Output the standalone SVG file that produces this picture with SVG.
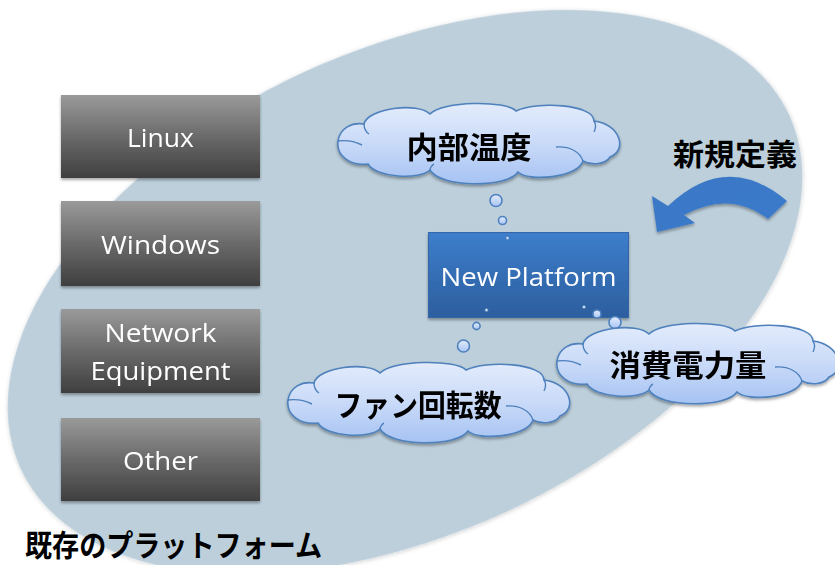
<svg xmlns="http://www.w3.org/2000/svg" xmlns:xlink="http://www.w3.org/1999/xlink" width="835" height="565" viewBox="0 0 835 565">
<style>
.boxtxt{font-family:"Open Sans","Liberation Sans",sans-serif;font-size:26px;fill:#ffffff;text-anchor:middle}
.jp{font-family:"Noto Sans CJK JP",sans-serif;font-weight:bold;fill:#000000;font-size:30px;text-anchor:middle;dominant-baseline:central}
.cloud{fill:url(#gCloud);stroke:#4f81bd;stroke-width:1.6}
.cinner{fill:none;stroke:#4f81bd;stroke-width:1.4}
.bub{fill:url(#gBub);stroke:#4f81bd;stroke-width:1.6}
.dot{fill:#dbe7fb;stroke:#4f81bd;stroke-width:0.8}
</style>
<defs>
<linearGradient id="gBox" x1="0" y1="0" x2="0" y2="1">
<stop offset="0" stop-color="#9a9a9a"/>
<stop offset="0.5" stop-color="#6a6a6a"/>
<stop offset="1" stop-color="#3f3f3f"/>
</linearGradient>
<linearGradient id="gNew" x1="0" y1="0" x2="0" y2="1">
<stop offset="0" stop-color="#3d7ecc"/>
<stop offset="1" stop-color="#2c5e9e"/>
</linearGradient>
<linearGradient id="gCloud" x1="0" y1="0" x2="0" y2="1">
<stop offset="0" stop-color="#e3ecfc"/>
<stop offset="0.5" stop-color="#c9daf8"/>
<stop offset="1" stop-color="#a6c3f3"/>
</linearGradient>
<linearGradient id="gBub" x1="0" y1="0" x2="0" y2="1">
<stop offset="0" stop-color="#e3ecfc"/>
<stop offset="1" stop-color="#a9c5f3"/>
</linearGradient>
<linearGradient id="gArrow" x1="0" y1="0" x2="1" y2="1">
<stop offset="0" stop-color="#3a78c6"/>
<stop offset="1" stop-color="#3b7bcb"/>
</linearGradient>
<filter id="sh" x="-10%" y="-10%" width="120%" height="130%">
<feDropShadow dx="0" dy="2" stdDeviation="1.5" flood-color="#000" flood-opacity="0.35"/>
</filter>
<filter id="shE" x="-5%" y="-5%" width="110%" height="110%">
<feDropShadow dx="0" dy="1" stdDeviation="2" flood-color="#000" flood-opacity="0.2"/>
</filter>
<g id="cloud">
<path class="cloud" d="M 0,37 C 2,24 14,18 26,20 C 30,4 80,-2 92,10 C 104,-3 168,-4 178,7 C 198,-3 256,0 256,17 C 282,20 290,46 272,53 C 268,60 254,62 245,57 C 240,74 190,78 180,68 C 170,84 102,84 92,66 C 82,76 38,74 30,60 C 12,62 -2,52 0,37 Z"/>
<path class="cinner" d="M 26,20 C 26,24 28,28 31,30 M 0,37 C 8,36 18,38 24,41 M 256,17 C 258,20 258,24 256,28 M 218,43 C 232,42 242,48 245,57 M 92,66 C 92,64 94,61 96,60"/>
</g>
</defs>

<ellipse id="platform-area" cx="405" cy="292" rx="423" ry="242" transform="rotate(-24.7 405 292)" fill="#bccfdb" filter="url(#shE)"/>

<g id="node-linux" filter="url(#sh)">
<rect x="61" y="95" width="199" height="83" fill="url(#gBox)"/>
<text class="boxtxt" x="160.5" y="147" textLength="67" lengthAdjust="spacingAndGlyphs">Linux</text>
</g>
<g id="node-windows" filter="url(#sh)">
<rect x="61" y="201" width="199" height="85" fill="url(#gBox)"/>
<text class="boxtxt" x="160.5" y="254" textLength="119" lengthAdjust="spacingAndGlyphs">Windows</text>
</g>
<g id="node-network" filter="url(#sh)">
<rect x="61" y="309" width="199" height="84" fill="url(#gBox)"/>
<text class="boxtxt" x="160.5" y="342" textLength="112" lengthAdjust="spacingAndGlyphs">Network</text>
<text class="boxtxt" x="160.5" y="380" textLength="140" lengthAdjust="spacingAndGlyphs">Equipment</text>
</g>
<g id="node-other" filter="url(#sh)">
<rect x="61" y="418" width="199" height="83" fill="url(#gBox)"/>
<text class="boxtxt" x="160.5" y="470" textLength="75" lengthAdjust="spacingAndGlyphs">Other</text>
</g>

<g id="node-newplatform" filter="url(#sh)">
<rect x="428.5" y="232.5" width="200" height="85" fill="url(#gNew)" stroke="#3466a8" stroke-width="1"/>
<text class="boxtxt" x="528.5" y="286" font-size="27" textLength="176" lengthAdjust="spacingAndGlyphs">New Platform</text>
</g>

<g id="connectors">
<circle class="bub" cx="496" cy="200.5" r="6"/>
<circle class="bub" cx="502.5" cy="220.5" r="4"/>
<circle class="dot" cx="507.5" cy="238" r="1.6"/>
<circle class="dot" cx="486.5" cy="310" r="1.6"/>
<circle class="dot" cx="584" cy="307" r="1.6"/>
<circle class="bub" cx="597" cy="314" r="4"/>
<circle class="bub" cx="615" cy="322.5" r="6"/>
<circle class="bub" cx="476.5" cy="326" r="3.6"/>
<circle class="bub" cx="463.5" cy="346" r="6"/>
</g>

<g id="node-temp" filter="url(#sh)">
<use xlink:href="#cloud" href="#cloud" transform="translate(338,104)"/>
<text class="jp" x="469" y="145" textLength="125" lengthAdjust="spacingAndGlyphs">内部温度</text>
</g>
<g id="node-fan" filter="url(#sh)">
<use xlink:href="#cloud" href="#cloud" transform="translate(288,363)"/>
<text class="jp" x="418" y="403" textLength="167" lengthAdjust="spacingAndGlyphs">ファン回転数</text>
</g>
<g id="node-power" filter="url(#sh)">
<use xlink:href="#cloud" href="#cloud" transform="translate(557,324)"/>
<text class="jp" x="688" y="363" textLength="157" lengthAdjust="spacingAndGlyphs">消費電力量</text>
</g>

<g id="node-newdef">
<path d="M 668,206 Q 727,150 787,201 L 768,219 Q 730,190 684,215 L 695,223 L 657,232 L 652,196 Z" fill="url(#gArrow)" filter="url(#sh)"/>
<text class="jp" x="735" y="152" textLength="124" lengthAdjust="spacingAndGlyphs">新規定義</text>
</g>

<g id="label-existing">
<text class="jp" x="173.5" y="543" font-size="27" textLength="297" lengthAdjust="spacingAndGlyphs">既存のプラットフォーム</text>
</g>
</svg>
